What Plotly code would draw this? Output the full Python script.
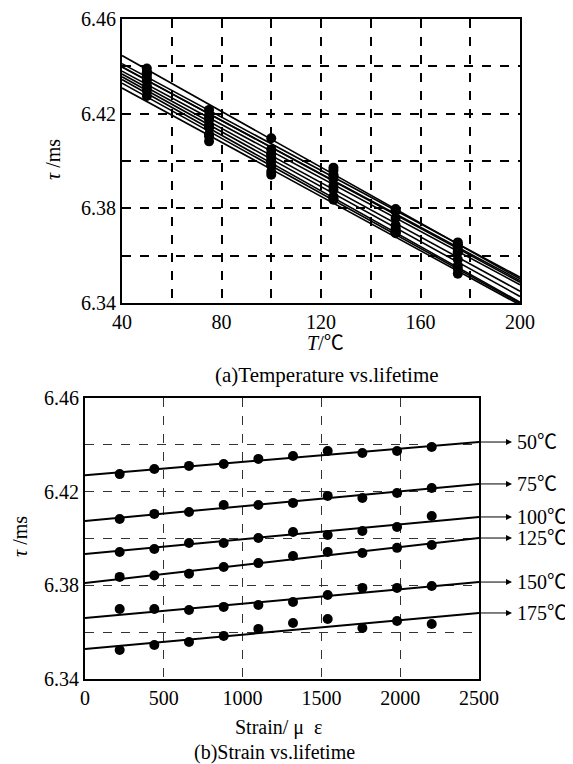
import numpy as np
import plotly.graph_objects as go

# strain levels (micro-strain) and test temperatures
strain = [220, 440, 660, 880, 1100, 1320, 1540, 1760, 1980, 2200]
temps = [50, 75, 100, 125, 150, 175]
temp_labels = ['50℃', '75℃', '100℃', '125℃', '150℃', '175℃']

# lifetime tau (ms), one list per temperature
tau_50 = [6.4275, 6.4297, 6.4310, 6.4318, 6.4340, 6.4352, 6.4374, 6.4365, 6.4374, 6.4391]
tau_75 = [6.4083, 6.4105, 6.4113, 6.4143, 6.4143, 6.4152, 6.4182, 6.4173, 6.4194, 6.4216]
tau_100 = [6.3942, 6.3955, 6.3981, 6.3981, 6.4002, 6.4028, 6.4015, 6.4032, 6.4049, 6.4096]
tau_125 = [6.3836, 6.3842, 6.3850, 6.3878, 6.3895, 6.3925, 6.3942, 6.3938, 6.3960, 6.3972]
tau_150 = [6.3699, 6.3699, 6.3695, 6.3708, 6.3716, 6.3729, 6.3759, 6.3789, 6.3789, 6.3797]
tau_175 = [6.3524, 6.3545, 6.3558, 6.3584, 6.3614, 6.3639, 6.3656, 6.3618, 6.3648, 6.3635]
tau_rows = [tau_50, tau_75, tau_100, tau_125, tau_150, tau_175]

# fitted lines in (b): tau at strain 0 and 2500
fit_start = [6.4270, 6.4075, 6.3934, 6.3810, 6.3660, 6.3528]
fit_end = [6.4412, 6.4233, 6.4092, 6.4002, 6.3814, 6.3682]

x_ticks_a = [40, 60, 80, 100, 120, 140, 160, 180, 200]
x_text_a = ['40', '', '80', '', '120', '', '160', '', '200']
y_ticks = [6.34, 6.36, 6.38, 6.40, 6.42, 6.44, 6.46]
y_text = ['6.34', '', '6.38', '', '6.42', '', '6.46']

# page body has an 8px margin, so the figure is a bit smaller than the window
OFF = 8
W, H = 573 - OFF, 764 - OFF
font = 'Liberation Serif, Noto Sans CJK SC'


def px(x):
    return (x - OFF) / W


def py(y):
    return 1 - (y - OFF) / H


fig = go.Figure()

# (a) temperature vs lifetime: one line per strain level
tau_arr = np.array(tau_rows)
for j in range(len(strain)):
    col = tau_arr[:, j]
    k, b = np.polyfit(temps, col, 1)
    fig.add_trace(go.Scatter(x=[40, 200], y=[k * 40 + b, k * 200 + b], mode='lines',
                             line=dict(color='black', width=1.6),
                             xaxis='x', yaxis='y', showlegend=False))
    fig.add_trace(go.Scatter(x=temps, y=col, mode='markers',
                             marker=dict(color='black', size=10),
                             xaxis='x', yaxis='y', showlegend=False))

# (b) strain vs lifetime: one line per temperature
for i, row in enumerate(tau_rows):
    fig.add_trace(go.Scatter(x=[0, 2500], y=[fit_start[i], fit_end[i]], mode='lines',
                             line=dict(color='black', width=2),
                             xaxis='x2', yaxis='y2', showlegend=False))
    fig.add_trace(go.Scatter(x=strain, y=row, mode='markers',
                             marker=dict(color='black', size=10),
                             xaxis='x2', yaxis='y2', showlegend=False))

axis_common = dict(showline=True, mirror=True, linecolor='black', linewidth=2,
                   ticks='', zeroline=False, griddash='dash', automargin=False,
                   tickfont=dict(family=font, size=20, color='black'))

fig.update_layout(
    width=W, height=H,
    margin=dict(l=0, r=0, t=0, b=0, autoexpand=False),
    plot_bgcolor='white', paper_bgcolor='white',
    xaxis=dict(domain=[px(122), px(520)], range=[40, 200], anchor='y',
               tickvals=x_ticks_a, ticktext=x_text_a,
               gridcolor='black', gridwidth=1.5, **axis_common),
    yaxis=dict(domain=[py(303), py(19)], range=[6.34, 6.46], anchor='x',
               tickvals=y_ticks, ticktext=y_text,
               gridcolor='black', gridwidth=1.5, **axis_common),
    xaxis2=dict(domain=[px(85), px(479)], range=[0, 2500], anchor='y2',
                tickvals=[0, 500, 1000, 1500, 2000, 2500],
                gridcolor='#333', gridwidth=1, **axis_common),
    yaxis2=dict(domain=[py(679), py(398)], range=[6.34, 6.46], anchor='x2',
                tickvals=y_ticks, ticktext=y_text,
                gridcolor='#333', gridwidth=1, **axis_common),
)

txt = dict(family=font, size=20, color='black')
cap = dict(family=font, size=21, color='black')
notes = [
    dict(text='<i>τ</i> /ms', x=px(53), y=py(160), textangle=-90, font=txt),
    dict(text='<i>T</i>/℃', x=px(325), y=py(343), font=txt),
    dict(text='(a)Temperature vs.lifetime', x=px(327), y=py(375), font=cap),
    dict(text='<i>τ</i> /ms', x=px(20), y=py(537), textangle=-90, font=txt),
    dict(text='Strain/ μ  ε', x=px(278), y=py(727), font=txt),
    dict(text='(b)Strain vs.lifetime', x=px(274), y=py(752), font=txt),
]
for n in notes:
    fig.add_annotation(xref='paper', yref='paper', showarrow=False,
                       xanchor='center', yanchor='middle', **n)

# labels with arrows on the right of (b)
for i, lab in enumerate(temp_labels):
    fig.add_annotation(xref='paper', yref='y2', x=px(512), y=fit_end[i],
                       ax=-33, ay=0, text='', showarrow=True,
                       arrowhead=2, arrowsize=1.2, arrowwidth=1, arrowcolor='black')
    fig.add_annotation(xref='paper', yref='y2', x=px(515), y=fit_end[i],
                       text=lab, showarrow=False, xanchor='left', yanchor='middle',
                       font=txt)

fig.write_html("out.html")
